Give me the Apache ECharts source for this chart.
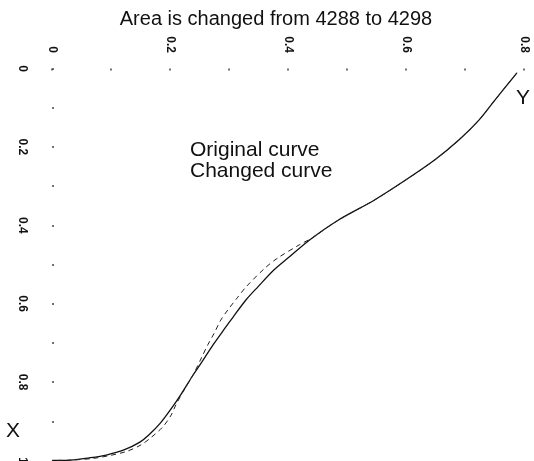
<!DOCTYPE html>
<html>
<head>
<meta charset="utf-8">
<script src="https://cdn.jsdelivr.net/npm/echarts@6/dist/echarts.min.js"></script>
<style>html,body{margin:0;padding:0;background:#fff}#c{width:534px;height:461px}</style>
</head>
<body>
<div id="c"></div>
<script>
// Horizontal axis = Y, vertical axis = X (reversed, 0 at top)
const titleText = 'Area is changed from 4288 to 4298';
const seriesNames = ['Original curve', 'Changed curve'];
const yTickLabels = ['0', '0.2', '0.4', '0.6', '0.8'];        // horizontal (top) axis
const xTickLabels = ['0', '0.2', '0.4', '0.6', '0.8', '1'];   // vertical (left) axis

// points as [Y, X]
const originalCurve = [
  [0.788, 0.011], [0.751, 0.080], [0.724, 0.131], [0.690, 0.182], [0.649, 0.233],
  [0.600, 0.284], [0.546, 0.336], [0.485, 0.387], [0.436, 0.438], [0.402, 0.481],
  [0.376, 0.514], [0.349, 0.557], [0.329, 0.590], [0.307, 0.634], [0.291, 0.667],
  [0.273, 0.705], [0.253, 0.751], [0.237, 0.787], [0.220, 0.828], [0.203, 0.866],
  [0.184, 0.904], [0.164, 0.935], [0.149, 0.953], [0.122, 0.973], [0.092, 0.986],
  [0.064, 0.993], [0.031, 0.999], [0.000, 1.000]
];
const changedCurve = [
  [0.788, 0.011], [0.751, 0.080], [0.724, 0.131], [0.690, 0.182], [0.649, 0.233],
  [0.600, 0.284], [0.546, 0.336], [0.485, 0.387], [0.441, 0.432], [0.419, 0.450],
  [0.383, 0.483], [0.361, 0.509], [0.329, 0.557], [0.314, 0.585], [0.298, 0.616],
  [0.286, 0.642], [0.275, 0.675], [0.264, 0.705], [0.254, 0.736], [0.239, 0.782],
  [0.222, 0.825], [0.210, 0.858], [0.202, 0.884], [0.188, 0.914], [0.169, 0.940],
  [0.151, 0.960], [0.124, 0.978], [0.073, 0.994], [0.031, 0.999], [0.000, 1.000]
];

const FONT = 'Liberation Sans, Arial, Helvetica, sans-serif';
function tickFmt(labels) {
  return function (v) {
    const k = Math.round(v * 10);
    if (k % 2 !== 0) return '';
    const s = labels[k / 2];
    return s === undefined ? '' : s;
  };
}

const chart = echarts.init(document.getElementById('c'), null, {renderer: 'canvas'});
chart.setOption({
  animation: false,
  backgroundColor: '#fff',
  title: {
    text: titleText, left: 271, top: 4, textAlign: 'center',
    textStyle: {fontFamily: FONT, fontSize: 20, fontWeight: 'normal', color: '#111'}
  },
  legend: {
    data: seriesNames, orient: 'vertical', left: 179, top: 135,
    itemWidth: 0, itemHeight: 0, itemGap: 0, selectedMode: false,
    textStyle: {fontFamily: FONT, fontSize: 21, color: '#111'}
  },
  grid: {left: 52, right: 10, top: 68.5, bottom: 0.5, containLabel: false, outerBoundsMode: 'none'},
  xAxis: {
    type: 'value', position: 'top', min: 0, max: 0.8, interval: 0.1,
    axisLine: {show: false},
    axisTick: {show: true, inside: true, length: 2, lineStyle: {color: '#444', width: 1.5}},
    splitLine: {show: false},
    axisLabel: {rotate: -90, margin: 15.5, fontFamily: FONT, fontSize: 12, fontWeight: 'bold', color: '#111',
      formatter: tickFmt(yTickLabels), showMaxLabel: true, showMinLabel: true}
  },
  yAxis: {
    type: 'value', inverse: true, min: 0, max: 1, interval: 0.1,
    axisLine: {show: false},
    axisTick: {show: true, inside: true, length: 2, lineStyle: {color: '#444', width: 1.5}},
    splitLine: {show: false},
    axisLabel: {rotate: -90, margin: 24, fontFamily: FONT, fontSize: 12, fontWeight: 'bold', color: '#111',
      formatter: tickFmt(xTickLabels), showMaxLabel: true, showMinLabel: true}
  },
  graphic: [
    {type: 'text', left: 516, top: 88, style: {text: 'Y', font: '21px ' + FONT, fill: '#111'}},
    {type: 'text', left: 6, top: 421, style: {text: 'X', font: '21px ' + FONT, fill: '#111'}}
  ],
  series: [
    {name: seriesNames[0], type: 'line', data: originalCurve, smooth: 0.3, symbol: 'none',
      lineStyle: {color: '#111', width: 1.3, type: 'solid'}, itemStyle: {color: '#111'}},
    {name: seriesNames[1], type: 'line', data: changedCurve, smooth: 0.3, symbol: 'none',
      lineStyle: {color: '#222', width: 1, type: [5, 4]}, itemStyle: {color: '#222'}}
  ]
});
</script>
</body>
</html>
